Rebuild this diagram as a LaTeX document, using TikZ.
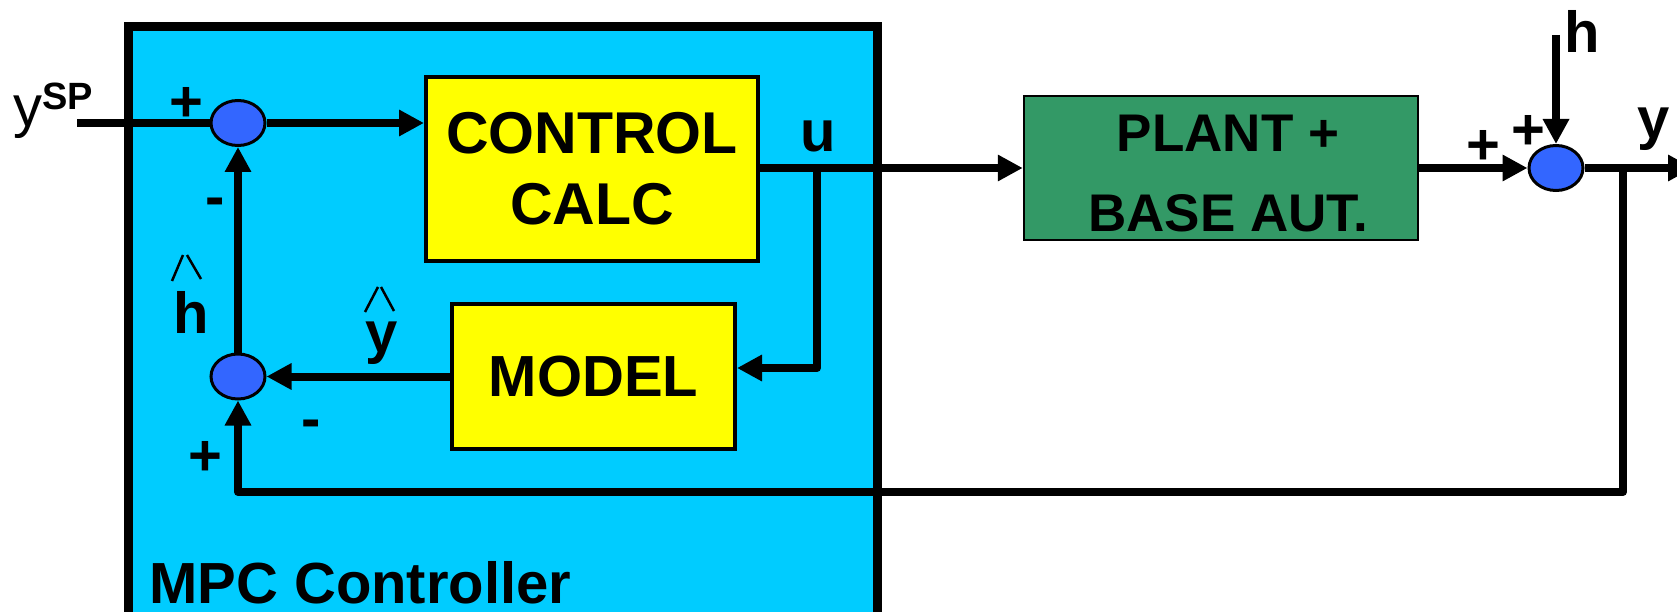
\documentclass[tikz,border=0pt]{standalone}
\usepackage{fontspec}
\setmainfont{Liberation Sans}
\usetikzlibrary{arrows.meta,shapes.geometric}
\definecolor{mpccyan}{HTML}{00CCFF}
\definecolor{sumblue}{HTML}{3366FF}
\definecolor{plantgreen}{HTML}{339966}
\definecolor{boxyellow}{HTML}{FFFF00}
\begin{document}
\begin{tikzpicture}[x=1pt,y=-1pt,
  sig/.style={line width=8pt},
  arr/.style={sig,-{Triangle[length=25pt,width=25pt]}},
  sumjn/.style={ellipse,draw,line width=3pt,fill=sumblue,minimum width=54pt,minimum height=45pt,inner sep=0pt},
  ybox/.style={draw,fill=boxyellow,line width=4pt,inner sep=0pt,align=center},
  lbl/.style={inner sep=0pt,font=\fontsize{58}{70}\selectfont\bfseries},
  hatln/.style={line width=2.5pt},
]
\useasboundingbox (0,0) rectangle (1677,612);
\clip (0,0) rectangle (1677,612);
% MPC box
\node[draw,line width=9pt,fill=mpccyan,minimum width=749pt,minimum height=593pt,inner sep=0pt,outer sep=0pt,anchor=north west] (mpc) at (128,27) {};
\node[inner sep=0pt,anchor=base west,font=\fontsize{58}{68}\selectfont\bfseries] (mpclbl) at (149,603) {MPC Controller};
% blocks
\node[ybox,minimum width=332pt,minimum height=184pt,font=\fontsize{59}{71}\selectfont\bfseries] (cc) at (592,169) {CONTROL\\CALC};
\node[ybox,minimum width=283pt,minimum height=145pt,font=\fontsize{58}{70}\selectfont\bfseries] (model) at (593.5,376.5) {MODEL};
\node[draw,fill=plantgreen,line width=2.5pt,inner sep=0pt,minimum width=394pt,minimum height=144pt] (plant) at (1221,168) {};
\node[inner sep=0pt,align=center,font=\fontsize{53}{80}\selectfont\bfseries] (plantlbl) at (1228,174) {PLANT +\\BASE AUT.};
% summing junctions
\node[sumjn] (c1) at (238,123) {};
\node[sumjn] (c2) at (238,376.5) {};
\node[sumjn] (c3) at (1556,168) {};
% free ends
\coordinate (ysp) at (77,123);
\coordinate (ubr) at (817,168);
\coordinate (hin) at (1556,35);
\coordinate (yout) at (1693,168);
\coordinate (fb) at (1623,168);
\coordinate (fbc) at (1623,492);
% connectors
\draw[sig] (ysp) -- (c1);
\draw[arr] (c1) -- (c1 -| cc.west);
\draw[arr] (c2) -- (c1);
\draw[arr] (model) -- (c2);
\draw[arr] (cc.east |- plant.west) -- (plant.west);
\draw[arr,line join=round] (ubr) |- ([yshift=8.5pt]model.east);
\draw[arr] (plant.east) -- (c3);
\draw[arr] (hin) -- (c3);
\draw[arr] (c3) -- (yout);
\draw[arr,line join=round] (fb) -- (fbc) -| (c2);
% labels
\node[inner sep=0pt,anchor=base west,font=\fontsize{58}{70}\selectfont] (yspl) at (13,127) {y\raisebox{17pt}{\fontsize{38}{44}\selectfont\bfseries SP}};
\node[lbl,anchor=base] (ulbl) at (818,152) {u};
\node[lbl,anchor=base] (hlbl) at (1582.5,53) {h};
\node[lbl,anchor=base] (ylbl) at (1654,139) {y};
\node[lbl,anchor=base] (yhat) at (382,352) {y};
\node[lbl,anchor=base] (hhat) at (191.5,333) {h};
\draw[hatln] (365,312) -- (378,287) (381,287) -- (394,311);
\draw[hatln] (172,281) -- (183,255) (187,255) -- (201,279);
\node[lbl] (p1) at (186.5,104.5) {+};
\node[lbl] (p2) at (205.5,458) {+};
\node[lbl] (p3) at (1483.5,147.5) {+};
\node[lbl] (p4) at (1528,132.5) {+};
\node[lbl,anchor=base] (m1) at (215.5,216.5) {-};
\node[lbl,anchor=base] (m2) at (311.5,438) {-};
\end{tikzpicture}
\end{document}
